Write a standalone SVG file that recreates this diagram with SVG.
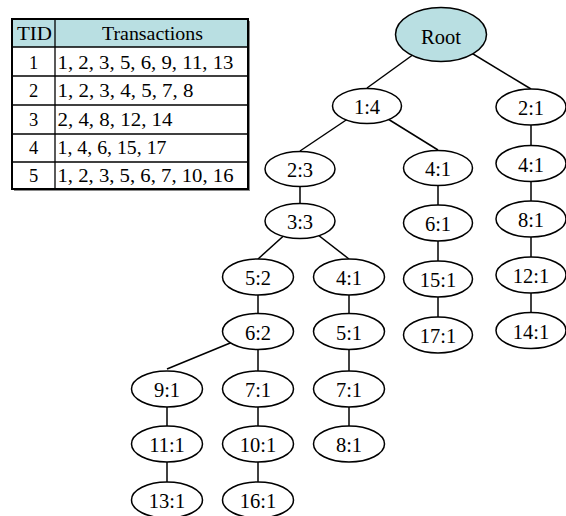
<svg xmlns="http://www.w3.org/2000/svg" width="566" height="516" viewBox="0 0 566 516">
  <style>
    .tbl-text { font-family: "Liberation Serif", "Times New Roman", serif; font-size: 18.5px; fill: #000; }
    .grid { stroke: #000; stroke-width: 1.3; fill: none; }
    .edge { stroke: #000; stroke-width: 1.5; fill: none; }
    .node ellipse { fill: #fff; stroke: #000; stroke-width: 1.5; }
    .node text { font-family: "Liberation Serif", "Times New Roman", serif; font-size: 20.5px; text-anchor: middle; fill: #000; }
    #root ellipse { fill: #b9dfe2; }
  </style>

  <!-- Transaction table -->
  <g id="table">
    <rect x="14" y="21" width="236" height="170" fill="#8a8a8a"/>
    <rect x="12" y="19" width="236" height="170" fill="#fff"/>
    <rect x="12" y="19" width="236" height="28" fill="#b9dfe2"/>
    <line class="grid" x1="12" y1="47" x2="248" y2="47"/>
    <line class="grid" x1="12" y1="76" x2="248" y2="76"/>
    <line class="grid" x1="12" y1="105" x2="248" y2="105"/>
    <line class="grid" x1="12" y1="134" x2="248" y2="134"/>
    <line class="grid" x1="12" y1="162" x2="248" y2="162"/>
    <line class="grid" x1="55" y1="19" x2="55" y2="189"/>
    <rect x="12" y="19" width="236" height="170" fill="none" stroke="#000" stroke-width="2"/>

    <text class="tbl-text" x="34.5" y="40" text-anchor="middle" textLength="35" lengthAdjust="spacingAndGlyphs">TID</text>
    <text class="tbl-text" x="152.5" y="40" text-anchor="middle" textLength="101" lengthAdjust="spacingAndGlyphs">Transactions</text>

    <text class="tbl-text" x="33.7" y="69" text-anchor="middle">1</text>
    <text class="tbl-text" x="33.7" y="97" text-anchor="middle">2</text>
    <text class="tbl-text" x="33.7" y="126" text-anchor="middle">3</text>
    <text class="tbl-text" x="33.7" y="154" text-anchor="middle">4</text>
    <text class="tbl-text" x="33.7" y="182" text-anchor="middle">5</text>

    <text class="tbl-text" x="57.5" y="69" textLength="176" lengthAdjust="spacingAndGlyphs">1, 2, 3, 5, 6, 9, 11, 13</text>
    <text class="tbl-text" x="57.5" y="97" textLength="136" lengthAdjust="spacingAndGlyphs">1, 2, 3, 4, 5, 7, 8</text>
    <text class="tbl-text" x="57.5" y="126" textLength="115" lengthAdjust="spacingAndGlyphs">2, 4, 8, 12, 14</text>
    <text class="tbl-text" x="57.5" y="154" textLength="109" lengthAdjust="spacingAndGlyphs">1, 4, 6, 15, 17</text>
    <text class="tbl-text" x="57.5" y="182" textLength="176" lengthAdjust="spacingAndGlyphs">1, 2, 3, 5, 6, 7, 10, 16</text>
  </g>

  <!-- Tree edges: from parent centre to child top; nodes are painted over them -->
  <g id="connectors" class="edge">
    <line x1="441" y1="34.5" x2="367" y2="88"/>
    <line x1="441" y1="34.5" x2="531" y2="89"/>
    <line x1="367" y1="106" x2="300" y2="151"/>
    <line x1="367" y1="106" x2="438" y2="150"/>
    <line x1="531" y1="107" x2="531" y2="146"/>
    <line x1="300" y1="169" x2="300" y2="203"/>
    <line x1="300" y1="221" x2="258" y2="259"/>
    <line x1="300" y1="221" x2="349" y2="259"/>
    <line x1="258" y1="277" x2="258" y2="314"/>
    <line x1="258" y1="331.5" x2="167" y2="369"/>
    <line x1="258" y1="331.5" x2="258" y2="371"/>
    <line x1="167" y1="389" x2="167" y2="426"/>
    <line x1="167" y1="444" x2="167" y2="482"/>
    <line x1="258" y1="389" x2="258" y2="426"/>
    <line x1="258" y1="444" x2="258" y2="482"/>
    <line x1="349" y1="277" x2="349" y2="314"/>
    <line x1="349" y1="331.5" x2="349" y2="371"/>
    <line x1="349" y1="389" x2="349" y2="426"/>
    <line x1="438" y1="168" x2="438" y2="205"/>
    <line x1="438" y1="223" x2="438" y2="261"/>
    <line x1="438" y1="279" x2="438" y2="317"/>
    <line x1="531" y1="163.5" x2="531" y2="201"/>
    <line x1="531" y1="219" x2="531" y2="257"/>
    <line x1="531" y1="275" x2="531" y2="312"/>
  </g>

  <g id="root" class="node"><ellipse cx="441" cy="34.5" rx="45.5" ry="27"/><text x="441" y="43.5">Root</text></g>

  <g id="n1-4" class="node"><ellipse cx="367" cy="106" rx="34.5" ry="17.5"/><text x="367" y="114">1:4</text></g>
  <g id="n2-1" class="node"><ellipse cx="531" cy="107" rx="35" ry="18"/><text x="531" y="115">2:1</text></g>

  <g id="n2-3" class="node"><ellipse cx="300" cy="169" rx="35" ry="17.5"/><text x="300" y="177">2:3</text></g>
  <g id="n3-3" class="node"><ellipse cx="300" cy="221" rx="35" ry="17.5"/><text x="300" y="229">3:3</text></g>
  <g id="n5-2" class="node"><ellipse cx="258" cy="277" rx="35.5" ry="18"/><text x="258" y="285">5:2</text></g>
  <g id="n6-2" class="node"><ellipse cx="258" cy="331.5" rx="35.5" ry="18"/><text x="258" y="339.5">6:2</text></g>
  <g id="n9-1" class="node"><ellipse cx="167" cy="389" rx="35.5" ry="18"/><text x="167" y="397">9:1</text></g>
  <g id="n11-1" class="node"><ellipse cx="167" cy="444" rx="35.5" ry="18"/><text x="167" y="452">11:1</text></g>
  <g id="n13-1" class="node"><ellipse cx="167" cy="500" rx="35.5" ry="18"/><text x="167" y="508">13:1</text></g>
  <g id="n7-1a" class="node"><ellipse cx="258" cy="389" rx="35.5" ry="18"/><text x="258" y="397">7:1</text></g>
  <g id="n10-1" class="node"><ellipse cx="258" cy="444" rx="35.5" ry="18"/><text x="258" y="452">10:1</text></g>
  <g id="n16-1" class="node"><ellipse cx="258" cy="500" rx="35.5" ry="18"/><text x="258" y="508">16:1</text></g>

  <g id="n4-1a" class="node"><ellipse cx="349" cy="277" rx="35.5" ry="18"/><text x="349" y="285">4:1</text></g>
  <g id="n5-1" class="node"><ellipse cx="349" cy="331.5" rx="35.5" ry="18"/><text x="349" y="339.5">5:1</text></g>
  <g id="n7-1b" class="node"><ellipse cx="349" cy="389" rx="35.5" ry="18"/><text x="349" y="397">7:1</text></g>
  <g id="n8-1a" class="node"><ellipse cx="349" cy="444" rx="35.5" ry="18"/><text x="349" y="452">8:1</text></g>

  <g id="n4-1b" class="node"><ellipse cx="438" cy="168" rx="34.5" ry="17.5"/><text x="438" y="176">4:1</text></g>
  <g id="n6-1" class="node"><ellipse cx="438" cy="223" rx="34.5" ry="18"/><text x="438" y="231">6:1</text></g>
  <g id="n15-1" class="node"><ellipse cx="438" cy="279" rx="34.5" ry="18"/><text x="438" y="287">15:1</text></g>
  <g id="n17-1" class="node"><ellipse cx="438" cy="335" rx="34.5" ry="18"/><text x="438" y="343">17:1</text></g>

  <g id="n4-1c" class="node"><ellipse cx="531" cy="163.5" rx="35" ry="18"/><text x="531" y="171.5">4:1</text></g>
  <g id="n8-1b" class="node"><ellipse cx="531" cy="219" rx="35" ry="18"/><text x="531" y="227">8:1</text></g>
  <g id="n12-1" class="node"><ellipse cx="531" cy="275" rx="35" ry="18"/><text x="531" y="283">12:1</text></g>
  <g id="n14-1" class="node"><ellipse cx="531" cy="330.5" rx="35" ry="18"/><text x="531" y="338.5">14:1</text></g>
</svg>
